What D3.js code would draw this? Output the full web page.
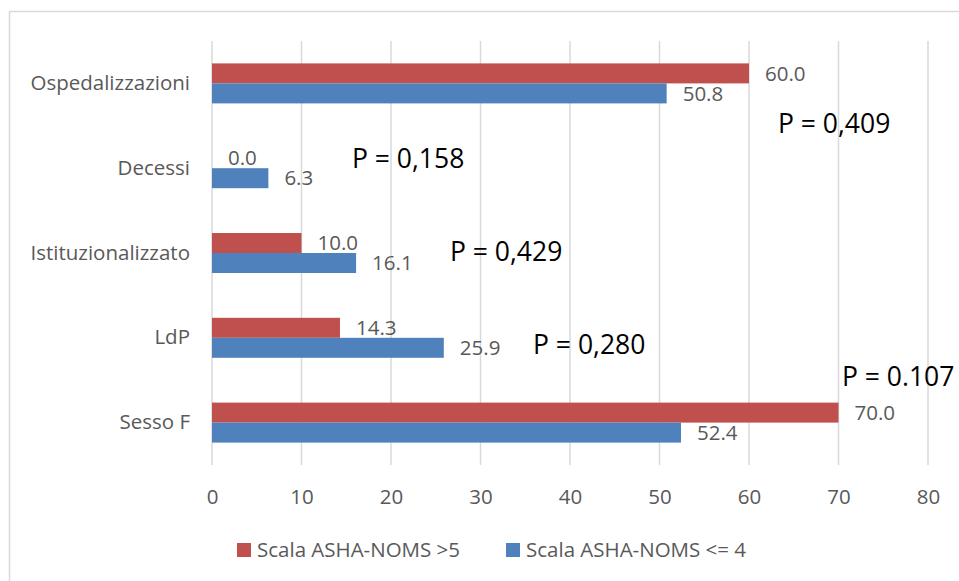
<!DOCTYPE html>
<html>
<head>
<meta charset="utf-8">
<script src="https://cdn.jsdelivr.net/npm/d3@7"></script>
<style>
  html, body { margin: 0; padding: 0; background: #fff; }
  svg { display: block; }
  text { font-family: "Open Sans", "Liberation Sans", sans-serif; }
</style>
</head>
<body>
<svg id="chart" width="959" height="581"></svg>
<script>
// Outcome categories, top to bottom
const categories = ["Ospedalizzazioni", "Decessi", "Istituzionalizzato", "LdP", "Sesso F"];
// Percentages per group
const seriesHigh = [60.0, 0.0, 10.0, 14.3, 70.0];   // Scala ASHA-NOMS >5
const seriesLow  = [50.8, 6.3, 16.1, 25.9, 52.4];   // Scala ASHA-NOMS <= 4
const seriesNames = ["Scala ASHA-NOMS >5", "Scala ASHA-NOMS <= 4"];
const xTicks = [0, 10, 20, 30, 40, 50, 60, 70, 80];
// p-values shown next to each category
const pLabels = ["P = 0,409", "P = 0,158", "P = 0,429", "P = 0,280", "P = 0.107"];

const svg = d3.select("#chart");
const colors = ["#C0504D", "#4F81BD"];
const textGray = "#595959";

// chart frame
svg.append("rect")
  .attr("x", 9.5).attr("y", 11.5)
  .attr("width", 1000).attr("height", 1000)
  .attr("fill", "#fff").attr("stroke", "#d9d9d9").attr("stroke-width", 1.5);

const plot = { left: 212, right: 928, top: 41, bottom: 465 };

const x = d3.scaleLinear().domain([0, 80]).range([plot.left, plot.right]);
const y = d3.scaleBand().domain(categories).range([plot.top, plot.bottom]).paddingInner(0).paddingOuter(0);
const barH = 20;

// vertical gridlines
svg.append("g")
  .selectAll("line")
  .data(xTicks)
  .join("line")
  .attr("x1", d => x(d)).attr("x2", d => x(d))
  .attr("y1", plot.top).attr("y2", plot.bottom)
  .attr("stroke", "#d9d9d9").attr("stroke-width", 1.5);

// x axis tick labels
const xAxis = d3.axisBottom(x).tickValues(xTicks).tickSize(0).tickPadding(0).tickFormat(d3.format("d"));
const gx = svg.append("g").attr("transform", `translate(0, 497)`).call(xAxis);
gx.select(".domain").remove();
gx.selectAll("text")
  .attr("y", 0).attr("dy", "0.35em")
  .attr("fill", textGray).attr("font-size", 20.5)
  .attr("font-family", "\"Open Sans\", sans-serif");

// category labels
const yAxis = d3.axisLeft(y).tickSize(0).tickPadding(22);
const gy = svg.append("g").attr("transform", `translate(${plot.left}, 0)`).call(yAxis);
gy.select(".domain").remove();
gy.selectAll("text")
  .attr("fill", textGray).attr("font-size", 20.5)
  .attr("font-family", "\"Open Sans\", sans-serif");

const rows = categories.map((c, i) => ({ c, i, high: seriesHigh[i], low: seriesLow[i] }));
const center = d => y(d.c) + y.bandwidth() / 2;
const fmt = d3.format(".1f");

// bars: >5 above the category line, <=4 below
svg.append("g").selectAll("rect")
  .data(rows).join("rect")
  .attr("x", x(0)).attr("y", d => center(d) - barH)
  .attr("width", d => x(d.high) - x(0)).attr("height", barH)
  .attr("fill", colors[0]);

svg.append("g").selectAll("rect")
  .data(rows).join("rect")
  .attr("x", x(0)).attr("y", d => center(d))
  .attr("width", d => x(d.low) - x(0)).attr("height", barH)
  .attr("fill", colors[1]);

// value labels
svg.append("g").selectAll("text")
  .data(rows).join("text")
  .attr("x", d => x(d.high) + 16).attr("y", d => center(d) - barH / 2)
  .attr("dy", "0.35em")
  .attr("fill", textGray).attr("font-size", 20.5)
  .text(d => fmt(d.high));

svg.append("g").selectAll("text")
  .data(rows).join("text")
  .attr("x", d => x(d.low) + 16).attr("y", d => center(d) + barH / 2)
  .attr("dy", "0.35em")
  .attr("fill", textGray).attr("font-size", 20.5)
  .text(d => fmt(d.low));

// p-value annotations (value-space anchors, vertical offsets from the category line)
const pPos = [[63.24, 40], [15.64, -9], [26.59, -1], [35.87, 7], [70.39, -46]];
svg.append("g").selectAll("text")
  .data(rows).join("text")
  .attr("x", d => x(pPos[d.i][0]))
  .attr("y", d => center(d) + pPos[d.i][1])
  .attr("dy", "0.35em")
  .attr("fill", "#000").attr("font-size", 26.5)
  .text(d => pLabels[d.i]);

// legend
const legend = svg.append("g");
const legendItems = [
  { name: seriesNames[0], color: colors[0], x: 237 },
  { name: seriesNames[1], color: colors[1], x: 506 }
];
const lg = legend.selectAll("g").data(legendItems).join("g")
  .attr("transform", d => `translate(${d.x}, 550)`);
lg.append("rect").attr("x", 0).attr("y", -7).attr("width", 14).attr("height", 14).attr("fill", d => d.color);
lg.append("text").attr("x", 20).attr("y", 0).attr("dy", "0.35em")
  .attr("fill", textGray).attr("font-size", 20.5)
  .text(d => d.name);
</script>
</body>
</html>
